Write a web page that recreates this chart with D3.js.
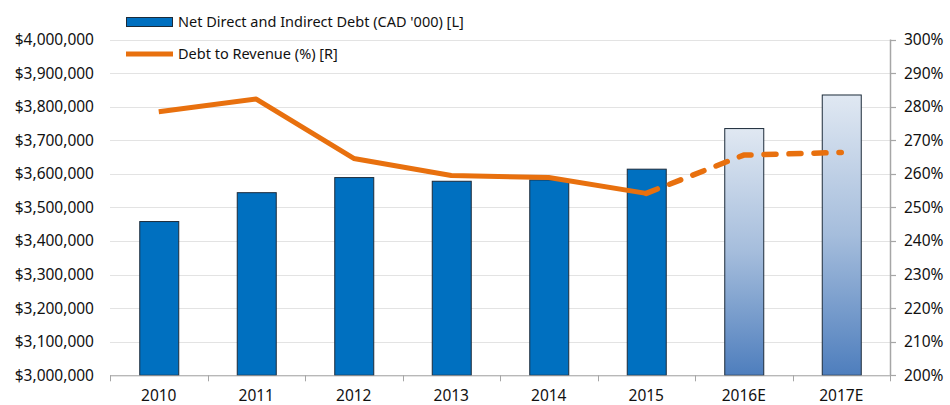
<!DOCTYPE html>
<html>
<head>
<meta charset="utf-8">
<script src="https://cdn.jsdelivr.net/npm/d3@7"></script>
<style>
  body { margin: 0; background: #fff; }
  text { font-family: "Noto Sans", "Open Sans", sans-serif; fill: #111; }
</style>
</head>
<body>
<svg id="chart" width="950" height="405"></svg>
<script>
const categories = ["2010", "2011", "2012", "2013", "2014", "2015", "2016E", "2017E"];
const estimated = [false, false, false, false, false, false, true, true];
const debtValues = [3458000, 3544000, 3589000, 3578000, 3582000, 3614000, 3735000, 3835000];
const ratioValues = [278.5, 282.3, 264.6, 259.5, 258.9, 254.2, 265.6, 266.4];
const leftTicks = [3000000, 3100000, 3200000, 3300000, 3400000, 3500000, 3600000, 3700000, 3800000, 3900000, 4000000];
const rightTicks = [200, 210, 220, 230, 240, 250, 260, 270, 280, 290, 300];
const legendLabels = ["Net Direct and Indirect Debt (CAD '000) [L]", "Debt to Revenue (%) [R]"];

const svg = d3.select("#chart");
const margin = { left: 110, right: 60, top: 39.6, bottom: 29.7 };
const W = 950, H = 405;
const x0 = margin.left, x1 = W - margin.right, y0 = H - margin.bottom, y1 = margin.top;

const x = d3.scaleBand().domain(categories).range([x0, x1]).paddingInner(0.6).paddingOuter(0.3);
const xb = d3.scaleBand().domain(categories).range([x0, x1]);
const yL = d3.scaleLinear().domain([3000000, 4000000]).range([y0, y1]);
const yR = d3.scaleLinear().domain([200, 300]).range([y0, y1]);

// gradient
const defs = svg.append("defs");
const grad = defs.append("linearGradient").attr("id", "estGrad").attr("x1", 0).attr("y1", 0).attr("x2", 0).attr("y2", 1);
grad.append("stop").attr("offset", "0%").attr("stop-color", "#e0e8f2");
grad.append("stop").attr("offset", "50%").attr("stop-color", "#a5bddc");
grad.append("stop").attr("offset", "100%").attr("stop-color", "#4e7ebd");

// gridlines
svg.append("g").selectAll("line").data(leftTicks).join("line")
  .attr("x1", x0).attr("x2", x1)
  .attr("y1", d => Math.round(yL(d)) + 0.5).attr("y2", d => Math.round(yL(d)) + 0.5)
  .attr("stroke", "#e3e3e3").attr("stroke-width", 1.2);

// left axis labels
const fmt = d3.format("$,");
svg.append("g").selectAll("text").data(leftTicks).join("text")
  .attr("x", 94).attr("y", d => yL(d)).attr("dy", "0.35em")
  .attr("text-anchor", "end").attr("font-size", 15.5).text(d => fmt(d));

// bars
svg.append("g").selectAll("rect").data(categories).join("rect")
  .attr("x", d => x(d) + 0.5)
  .attr("y", (d, i) => yL(debtValues[i]))
  .attr("width", x.bandwidth())
  .attr("height", (d, i) => y0 - yL(debtValues[i]))
  .attr("fill", (d, i) => estimated[i] ? "url(#estGrad)" : "#0070c0")
  .attr("stroke", "#1c2b3a").attr("stroke-width", 1);

// bottom axis
const bottom = svg.append("g");
bottom.append("line").attr("x1", x0).attr("x2", x1).attr("y1", y0 + 0.5).attr("y2", y0 + 0.5)
  .attr("stroke", "#a6a6a6").attr("stroke-width", 1);
const boundaries = categories.map(c => xb(c)).concat([x1]);
bottom.selectAll("line.t").data(boundaries).join("line").attr("class", "t")
  .attr("x1", d => Math.round(d) + 0.5).attr("x2", d => Math.round(d) + 0.5)
  .attr("y1", y0).attr("y2", y0 + 6).attr("stroke", "#a6a6a6");
bottom.selectAll("text").data(categories).join("text")
  .attr("x", d => xb(d) + xb.bandwidth() / 2).attr("y", 396).attr("dy", "0.35em")
  .attr("text-anchor", "middle").attr("font-size", 15.5).text(d => d);

// right axis
const right = svg.append("g");
right.append("line").attr("x1", x1 + 0.5).attr("x2", x1 + 0.5).attr("y1", y1).attr("y2", y0)
  .attr("stroke", "#a6a6a6").attr("stroke-width", 1.5);
right.selectAll("line.t").data(rightTicks).join("line").attr("class", "t")
  .attr("x1", x1).attr("x2", x1 + 6)
  .attr("y1", d => Math.round(yR(d)) + 0.5).attr("y2", d => Math.round(yR(d)) + 0.5)
  .attr("stroke", "#a6a6a6").attr("stroke-width", 1.2);
right.selectAll("text").data(rightTicks).join("text")
  .attr("x", 904).attr("y", d => yR(d)).attr("dy", "0.35em")
  .attr("text-anchor", "start").attr("font-size", 15.5).text(d => d + "%");

// line
const cx = c => xb(c) + xb.bandwidth() / 2;
const pts = categories.map((c, i) => [cx(c), yR(ratioValues[i]), estimated[i]]);
const lineGen = d3.line().x(d => d[0]).y(d => d[1]);
const lastActual = estimated.indexOf(true) - 1;
svg.append("path").datum(pts.slice(0, lastActual + 1))
  .attr("d", lineGen).attr("fill", "none").attr("stroke", "#e8700e")
  .attr("stroke-width", 5).attr("stroke-linejoin", "round");
svg.append("path").datum(pts.slice(lastActual))
  .attr("d", lineGen).attr("fill", "none").attr("stroke", "#e8700e")
  .attr("stroke-width", 5.5).attr("stroke-linecap", "round").attr("stroke-linejoin", "round")
  .attr("stroke-dasharray", "12,13");

// legend
const lg = svg.append("g");
lg.append("rect").attr("x", 126.5).attr("y", 17.5).attr("width", 46).attr("height", 9)
  .attr("fill", "#0070c0").attr("stroke", "#1c2b3a").attr("stroke-width", 1);
lg.append("text").attr("x", 178).attr("y", 22).attr("dy", "0.35em").attr("font-size", 14.5).text(legendLabels[0]);
lg.append("line").attr("x1", 126).attr("x2", 173).attr("y1", 54).attr("y2", 54)
  .attr("stroke", "#e8700e").attr("stroke-width", 5);
lg.append("text").attr("x", 178).attr("y", 54).attr("dy", "0.35em").attr("font-size", 14.5).text(legendLabels[1]);
</script>
</body>
</html>
